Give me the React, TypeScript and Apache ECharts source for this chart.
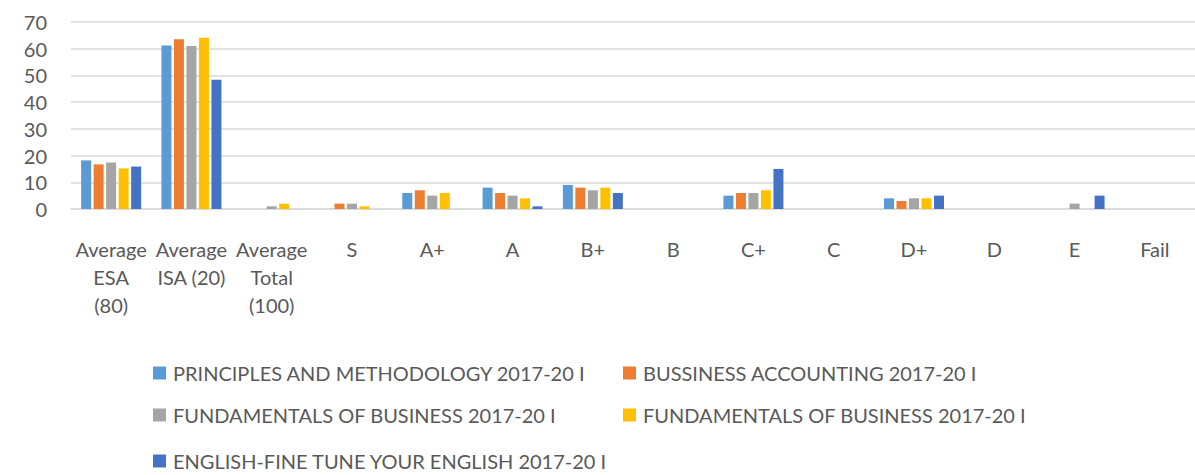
import React, { useEffect, useRef } from "react";
import * as echarts from "echarts";

const categories = [
  "Average ESA (80)",
  "Average ISA (20)",
  "Average Total (100)",
  "S",
  "A+",
  "A",
  "B+",
  "B",
  "C+",
  "C",
  "D+",
  "D",
  "E",
  "Fail",
];

const wrappedLabels: Record<string, string> = {
  "Average ESA (80)": "Average\nESA\n(80)",
  "Average ISA (20)": "Average\nISA (20)",
  "Average Total (100)": "Average\nTotal\n(100)",
};

const seriesNames = [
  "PRINCIPLES AND METHODOLOGY 2017-20 I",
  "BUSSINESS ACCOUNTING 2017-20 I",
  "FUNDAMENTALS OF BUSINESS 2017-20 I",
  "FUNDAMENTALS OF BUSINESS 2017-20 I ",
  "ENGLISH-FINE TUNE YOUR ENGLISH 2017-20 I",
];

const principles = [18.2, 61.2, 0, 0, 6, 8, 9, 0, 5, 0, 4, 0, 0, 0];
const accounting = [16.7, 63.5, 0, 2, 7, 6, 8, 0, 6, 0, 3, 0, 0, 0];
const fundamentalsA = [17.4, 61.0, 1, 2, 5, 5, 7, 0, 6, 0, 4, 0, 2, 0];
const fundamentalsB = [15.2, 64.1, 2, 1, 6, 4, 8, 0, 7, 0, 4, 0, 0, 0];
const english = [15.9, 48.4, 0, 0, 0, 1, 6, 0, 15, 0, 5, 0, 5, 0];

const seriesData = [principles, accounting, fundamentalsA, fundamentalsB, english];
const colors = ["#5B9BD5", "#ED7D31", "#A5A5A5", "#FFC000", "#4472C4"];

const yTicks = [0, 10, 20, 30, 40, 50, 60, 70];

const FONT = "Lato, 'Open Sans', sans-serif";
const TEXT = "#595959";

const legendPos = [
  { left: 148, top: 358 },
  { left: 618, top: 358 },
  { left: 148, top: 400 },
  { left: 618, top: 400 },
  { left: 148, top: 446 },
];

export default function App() {
  const ref = useRef<HTMLDivElement>(null);
  useEffect(() => {
    document.body.style.margin = "0";
    if (!ref.current) return;
    const chart = echarts.init(ref.current, undefined, { renderer: "svg" });
    chart.setOption({
      animation: false,
      color: colors,
      textStyle: { fontFamily: FONT },
      grid: { left: 71, right: 0, top: 22, bottom: 266, containLabel: false },
      legend: seriesNames.map((name, i) => ({
        data: [name],
        left: legendPos[i].left,
        top: legendPos[i].top,
        itemWidth: 13,
        itemHeight: 13,
        icon: "rect",
        selectedMode: false,
        formatter: (n: string) => n.trim(),
        textStyle: { color: TEXT, fontSize: 20, fontFamily: FONT, padding: [0, 0, 0, 2] },
      })),
      xAxis: {
        type: "category",
        data: categories,
        axisLine: { show: true, lineStyle: { color: "#D9D9D9", width: 1.5 } },
        axisTick: { show: false },
        axisLabel: {
          interval: 0,
          color: TEXT,
          fontSize: 20,
          fontFamily: FONT,
          lineHeight: 28,
          margin: 26,
          formatter: (v: string) => wrappedLabels[v] ?? v,
        },
      },
      yAxis: {
        type: "value",
        min: yTicks[0],
        max: yTicks[yTicks.length - 1],
        interval: 10,
        axisLine: { show: false },
        axisTick: { show: false },
        splitLine: { lineStyle: { color: "#D9D9D9", width: 1.5 } },
        axisLabel: { color: TEXT, fontSize: 20, fontFamily: FONT, margin: 24 },
      },
      series: seriesNames.map((name, i) => ({
        name,
        type: "bar",
        data: seriesData[i],
        barWidth: 10,
        barGap: "25%",
        itemStyle: { color: colors[i] },
      })),
    });
    return () => chart.dispose();
  }, []);
  return <div ref={ref} style={{ width: 1195, height: 475 }} />;
}
